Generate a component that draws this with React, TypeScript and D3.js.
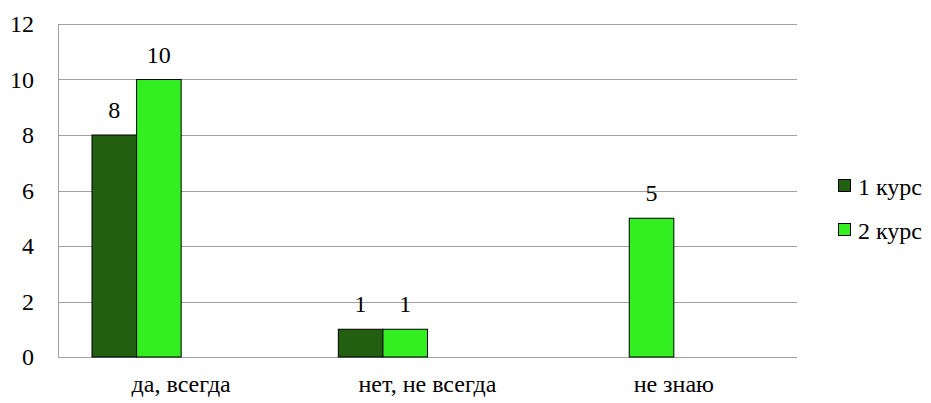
import React from "react";
import * as d3 from "d3";

const categories = ["да, всегда", "нет, не всегда", "не знаю"];
const seriesNames = ["1 курс", "2 курс"];
const series1 = [8, 1, null];
const series2 = [10, 1, 5];
const yTicks = [0, 2, 4, 6, 8, 10, 12];
const colors = ["#225f11", "#33ee21"];

const W = 931;
const H = 403;
const margin = { left: 58, right: 134, top: 24, bottom: 46 };
const FONT = "'Liberation Serif', 'Times New Roman', serif";

export default function App() {
  const x0 = d3
    .scaleBand<string>()
    .domain(categories)
    .range([margin.left, W - margin.right])
    .paddingInner(0)
    .paddingOuter(0);
  const bw = x0.bandwidth();
  const x1 = d3
    .scaleBand<number>()
    .domain([0, 1, 2, 3])
    .range([bw * 0.138, bw * 0.862]);
  const y = d3.scaleLinear().domain([0, 12]).range([H - margin.bottom, margin.top]);

  const allSeries = [series1, series2];

  const T = (props: any) => (
    <text
      {...props}
      fontFamily={FONT}
      fontSize={24}
      fill="#000"
      style={{ fontFamily: FONT, fontSize: "24px" }}
    />
  );

  return (
    <div style={{ position: "absolute", left: 0, top: 0, fontFamily: FONT }}>
      <svg width={W} height={H} style={{ display: "block", background: "#fff", fontFamily: FONT }}>
        <style>{`text { font-family: 'Liberation Serif', 'Times New Roman', serif !important; }`}</style>
        {yTicks.map((t) => (
          <g key={t}>
            <line
              x1={margin.left}
              x2={W - margin.right}
              y1={Math.round(y(t)) + 0.5}
              y2={Math.round(y(t)) + 0.5}
              stroke="#a0a0a0"
              strokeWidth={1}
            />
            <T x={34} y={y(t) + 8} textAnchor="end">
              {t}
            </T>
          </g>
        ))}
        <line
          x1={margin.left + 0.5}
          x2={margin.left + 0.5}
          y1={y(12)}
          y2={y(0)}
          stroke="#a0a0a0"
          strokeWidth={1}
        />
        {categories.map((c, ci) => (
          <g key={c}>
            {allSeries.map((s, si) => {
              const v = s[ci];
              if (v === null || v === undefined) return null;
              const bx = (x0(c) as number) + (x1(si) as number);
              return (
                <g key={si}>
                  <rect
                    x={bx}
                    y={y(v)}
                    width={x1.bandwidth()}
                    height={y(0) - y(v)}
                    fill={colors[si]}
                    stroke="#000"
                    strokeWidth={1}
                  />
                  <T x={bx + x1.bandwidth() / 2} y={y(v) - 17} textAnchor="middle">
                    {v}
                  </T>
                </g>
              );
            })}
            <T x={(x0(c) as number) + bw / 2} y={392} textAnchor="middle">
              {c}
            </T>
          </g>
        ))}
        {seriesNames.map((n, i) => (
          <g key={n} transform={`translate(838, ${179 + i * 44})`}>
            <rect x={0.5} y={0.5} width={12} height={12} fill={colors[i]} stroke="#000" strokeWidth={1} />
            <T x={20} y={16}>
              {n}
            </T>
          </g>
        ))}
      </svg>
    </div>
  );
}
